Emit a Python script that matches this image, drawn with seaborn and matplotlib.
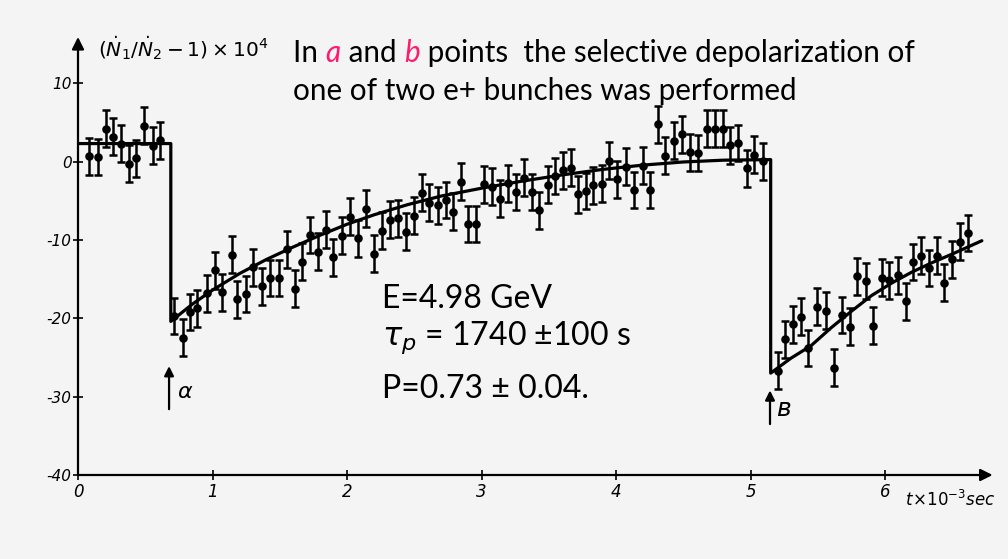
import matplotlib
matplotlib.use("Agg")
import matplotlib.pyplot as plt
import pandas as pd
import seaborn as sns

# Measured asymmetry (N1/N2 - 1) x 1e4 versus time (units of 1e3 s)
t_before = [0.084, 0.146, 0.208, 0.258, 0.320, 0.380, 0.432, 0.491, 0.555, 0.610]
y_before = [0.67, 0.59, 4.18, 3.2, 2.28, -0.25, 0.42, 4.56, 2.03, 2.70]

t_after_a = [0.716, 0.778, 0.833, 0.885, 0.957, 1.016, 1.073, 1.143, 1.184, 1.247,
             1.303, 1.368, 1.428, 1.492, 1.554, 1.616, 1.668, 1.725, 1.787, 1.846,
             1.898, 1.963, 2.022, 2.080, 2.141, 2.201, 2.258, 2.320, 2.381, 2.436,
             2.498, 2.555, 2.612, 2.674, 2.734, 2.790, 2.845, 2.902, 2.959, 3.021,
             3.080, 3.138, 3.195, 3.254, 3.316, 3.373, 3.431, 3.491, 3.546, 3.608,
             3.663, 3.720, 3.777, 3.831, 3.894, 3.950, 4.010, 4.074, 4.134, 4.199,
             4.253, 4.315, 4.364, 4.431, 4.493, 4.550, 4.607, 4.674, 4.736, 4.793,
             4.848, 4.909, 4.972, 5.028, 5.095]
y_after_a = [-19.7, -22.5, -19.2, -18.7, -16.8, -13.9, -16.7, -11.9, -17.6, -16.9,
             -13.5, -15.9, -14.85, -14.85, -11.2, -16.2, -12.8, -9.37, -11.5, -8.7,
             -12.2, -9.45, -7.05, -9.8, -5.99, -11.77, -8.82, -7.43, -7.25, -8.95,
             -6.92, -3.96, -5.23, -5.57, -4.9, -6.42, -2.57, -7.97, -7.97, -2.91,
             -3.2, -4.72, -2.78, -3.89, -2.06, -3.89, -6.24, -2.97, -1.84, -1.1,
             -0.8, -4.18, -3.76, -3.04, -2.82, 0.13, -2.28, -0.67, -3.63, -0.51,
             -3.63, 4.77, 0.76, 2.66, 3.5, 1.18, 1.1, 4.18, 4.18, 4.18,
             2.06, 2.37, -0.85, 0.89, 0.04]

t_after_b = [5.202, 5.257, 5.314, 5.375, 5.430, 5.497, 5.559, 5.621, 5.678, 5.740,
             5.790, 5.856, 5.908, 5.976, 6.032, 6.094, 6.154, 6.210, 6.268, 6.329,
             6.384, 6.441, 6.496, 6.558, 6.615]
y_after_b = [-26.67, -22.66, -20.76, -19.78, -23.8, -18.52, -19.03, -26.33, -19.58, -21.05,
             -14.65, -15.23, -20.97, -14.81, -15.15, -14.52, -17.81, -12.82, -11.99, -13.58,
             -11.99, -15.48, -12.49, -10.22, -9.11]

sigma = 2.35  # statistical error of each point

# Fitted curve: flat level, drop at a, recovery, drop at b, recovery
fit_t = [0.0, 0.69, 0.69, 0.85, 1.00, 1.20, 1.40, 1.60, 1.80, 2.00, 2.20, 2.45, 2.70,
         3.00, 3.30, 3.60, 3.90, 4.20, 4.50, 4.80, 5.15, 5.15,
         5.30, 5.45, 5.60, 5.75, 5.90, 6.05, 6.20, 6.35, 6.50, 6.72]
fit_y = [2.3, 2.3, -20.4, -18.2, -16.4, -14.3, -12.5, -10.9, -9.4, -8.0, -6.8, -5.5, -4.4,
         -3.4, -2.5, -1.7, -1.0, -0.45, -0.05, 0.18, 0.25, -27.0,
         -25.1, -23.5, -21.2, -19.1, -17.1, -15.5, -14.1, -12.9, -11.8, -10.1]

x_ticks = [0, 1, 2, 3, 4, 5, 6]
y_ticks = [10, 0, -10, -20, -30, -40]

points = pd.DataFrame({
    "t": t_before + t_after_a + t_after_b,
    "y": y_before + y_after_a + y_after_b,
})
fit = pd.DataFrame({"t": fit_t, "y": fit_y})

sns.set_style("white")
bg = "#f4f4f4"
plt.rcParams["font.family"] = ["DejaVu Sans"]
plt.rcParams["mathtext.fontset"] = "dejavusans"
plt.rcParams["text.color"] = "black"
plt.rcParams["xtick.color"] = "black"
plt.rcParams["ytick.color"] = "black"

fig = plt.figure(figsize=(10.08, 5.59), dpi=100, facecolor=bg)
ax = fig.add_axes([78 / 1008, 84 / 559, 914.6 / 1008, 438 / 559])
ax.set_facecolor(bg)
ax.set_xlim(0, 6.8)
ax.set_ylim(-40, 15.9)

# error bars then markers
ax.errorbar(points["t"], points["y"], yerr=sigma, fmt="none", ecolor="black",
            elinewidth=1.8, capsize=3.0, capthick=1.8, zorder=2)
sns.scatterplot(data=points, x="t", y="y", ax=ax, color="black", s=38,
                edgecolor="black", linewidth=0, zorder=3, legend=False)
sns.lineplot(data=fit, x="t", y="y", ax=ax, sort=False, estimator=None,
             color="black", linewidth=2.3, zorder=4)

# hand-drawn style axes with arrows
for side in ["top", "right", "left", "bottom"]:
    ax.spines[side].set_visible(False)
ax.annotate("", xy=(1.0, 0.0), xytext=(0.0, 0.0), xycoords="axes fraction",
            arrowprops=dict(arrowstyle="-|>", lw=1.6, color="black",
                            mutation_scale=18, shrinkA=0, shrinkB=0))
ax.annotate("", xy=(0.0, 1.0), xytext=(0.0, 0.0), xycoords="axes fraction",
            arrowprops=dict(arrowstyle="-|>", lw=1.6, color="black",
                            mutation_scale=18, shrinkA=0, shrinkB=0))

ax.set_xticks(x_ticks)
ax.set_yticks(y_ticks)
ax.set_xticklabels([str(v) for v in x_ticks], fontsize=12, style="italic")
ax.set_yticklabels([str(v) for v in y_ticks], fontsize=11, style="italic")
ax.tick_params(axis="both", direction="inout", length=7, width=1.2, color="black",
               bottom=True, left=True, pad=2)
ax.tick_params(axis="y", pad=1)
ax.set_xlabel("")
ax.set_ylabel("")

# axis titles
fig.text(98 / 1008, 1 - 48 / 559, r"$(\dot{N}_1/\dot{N}_2 - 1)\times 10^4$",
         fontsize=14.5, va="center", ha="left", color="black")
ax.text(6.15, -41.9, r"$t\!\times\!10^{-3}$sec", fontsize=12, style="italic",
        ha="left", va="top", color="black")

# depolarization markers
ax.annotate("", xy=(0.677, -26.1), xytext=(0.677, -31.6),
            arrowprops=dict(arrowstyle="-|>", lw=1.6, color="black", mutation_scale=14,
                            shrinkA=0, shrinkB=0))
ax.text(0.74, -29.4, "α", fontsize=16, style="italic", va="center", ha="left")
ax.annotate("", xy=(5.145, -29.2), xytext=(5.145, -33.5),
            arrowprops=dict(arrowstyle="-|>", lw=1.6, color="black", mutation_scale=14,
                            shrinkA=0, shrinkB=0))
ax.text(5.19, -31.6, "в", fontsize=18, style="italic", va="center", ha="left")

# caption text; the first line is laid out piece by piece
txt_font = "Lato"
pink = "#ff1a6c"
fs = 21.3
y1 = 1 - 62 / 559
renderer = fig.canvas.get_renderer()
x_px = 293
pieces = [("In ", "black", "normal"), ("a", pink, "italic"), (" and ", "black", "normal"),
          ("b", pink, "italic"), (" points  the selective depolarization of", "black", "normal")]
for piece, col, sty in pieces:
    tx = fig.text(x_px / 1008, y1, piece, fontsize=fs, family=txt_font, color=col,
                  style=sty, va="baseline", ha="left")
    bb = tx.get_window_extent(renderer=renderer)
    x_px = bb.x1
fig.text(293 / 1008, 1 - 100 / 559, "one of two e+ bunches was performed",
         fontsize=fs, family=txt_font, va="baseline", ha="left", color="black")

fb = 23
fig.text(382 / 1008, 1 - 308 / 559, "E=4.98 GeV", fontsize=fb, family=txt_font,
         va="baseline", ha="left", color="black")
fig.text(382 / 1008, 1 - 345 / 559, r"$\tau_p$" + " = 1740 \u00b1100 s", fontsize=fb,
         family=txt_font, va="baseline", ha="left", color="black")
fig.text(382 / 1008, 1 - 398 / 559, "P=0.73 \u00b1 0.04.", fontsize=fb, family=txt_font,
         va="baseline", ha="left", color="black")

fig.savefig("out.png", dpi=100, facecolor=bg)
